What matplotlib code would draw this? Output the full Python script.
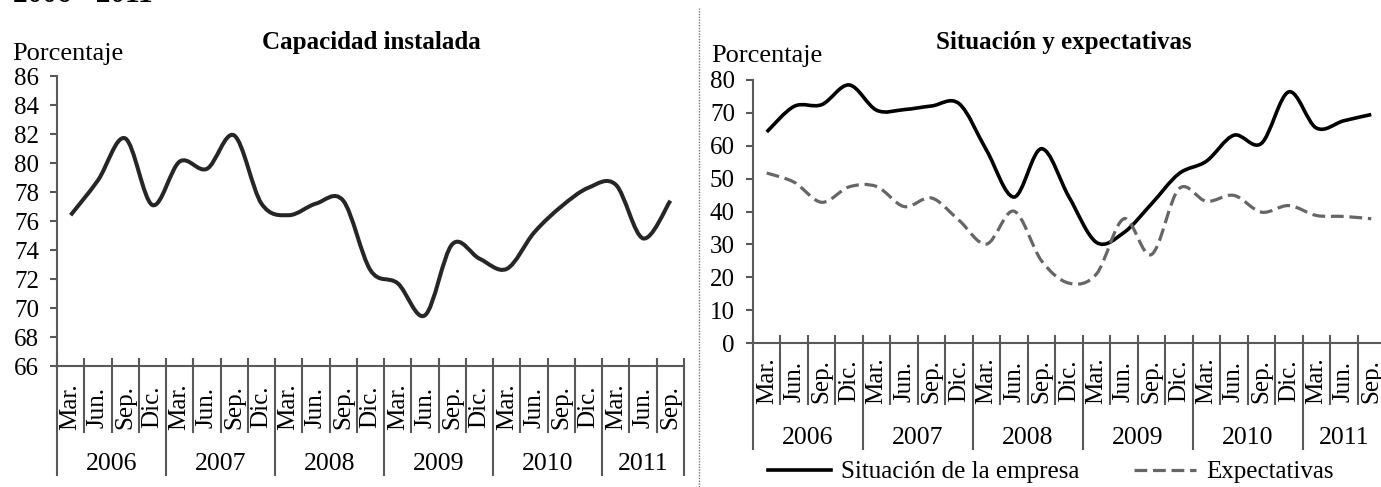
import numpy as np
import matplotlib
matplotlib.use("Agg")
import matplotlib.pyplot as plt
from matplotlib.path import Path
from matplotlib.patches import PathPatch
from matplotlib.lines import Line2D

plt.rcParams['font.family'] = ['Liberation Serif', 'DejaVu Serif']

# --- data ---
months = ['Mar.', 'Jun.', 'Sep.', 'Dic.'] * 5 + ['Mar.', 'Jun.', 'Sep.']
years = ['2006', '2007', '2008', '2009', '2010', '2011']
year_len = [4, 4, 4, 4, 4, 3]

capacidad = [76.4, 78.8, 81.7, 77.1, 80.1, 79.6, 81.9, 77.2, 76.4, 77.2, 77.4, 72.6,
             71.7, 69.5, 74.4, 73.4, 72.7, 75.2, 77.0, 78.3, 78.5, 74.8, 77.4]
situacion = [64.2, 72.0, 72.5, 78.5, 70.8, 71.0, 72.1, 72.8, 58.6, 44.4, 59.1, 44.4,
             30.6, 33.6, 42.3, 51.5, 55.3, 63.2, 60.7, 76.4, 65.4, 67.6, 69.5]
expectativas = [51.7, 48.9, 42.8, 47.5, 47.6, 41.5, 44.1, 37.3, 30.1, 40.1, 25.0, 18.2,
                21.0, 37.8, 26.9, 46.9, 43.1, 44.9, 39.8, 41.8, 38.8, 38.5, 37.8]

W, H = 1381, 487
AX_COL = '#595959'


def smooth_path(y):
    # Bezier smoothing like the spreadsheet "smoothed line" option
    pts = np.column_stack([np.arange(len(y)) + 0.5, y])
    n = len(pts)
    verts = [pts[0]]
    codes = [Path.MOVETO]
    for i in range(n - 1):
        p0 = pts[max(i - 1, 0)]
        p1 = pts[i]
        p2 = pts[i + 1]
        p3 = pts[min(i + 2, n - 1)]
        verts += [p1 + (p2 - p0) / 6, p2 - (p3 - p1) / 6, p2]
        codes += [Path.CURVE4] * 3
    return Path(verts, codes)


def make_ax(fig, left, right, top, bottom):
    ax = fig.add_axes([left / W, 1 - bottom / H, (right - left) / W, (bottom - top) / H])
    ax.set_xlim(0, len(months))
    for s in ['top', 'right']:
        ax.spines[s].set_visible(False)
    for s in ['left', 'bottom']:
        ax.spines[s].set_color(AX_COL)
        ax.spines[s].set_linewidth(1.5)
    ax.set_xticks([])
    ax.tick_params(axis='y', direction='out', length=5, width=1.5, color=AX_COL,
                   labelsize=18, pad=8)
    return ax


def draw_cats(ax, h_px, m_len, y_len, m_off, y_off):
    trans = ax.get_xaxis_transform()
    n = len(months)
    bounds = np.cumsum([0] + year_len)
    for k in range(n + 1):
        length = y_len if k in bounds else m_len
        ax.plot([k, k], [8 / h_px, -length / h_px], transform=trans, clip_on=False,
                color=AX_COL, lw=1.5, solid_capstyle='butt')
    for i, m in enumerate(months):
        ax.text(i + 0.5, -m_off / h_px, m, rotation=90, ha='center', va='center',
                transform=trans, fontsize=18)
    for j, yr in enumerate(years):
        ax.text((bounds[j] + bounds[j + 1]) / 2, -y_off / h_px, yr, ha='center', va='center',
                transform=trans, fontsize=18.5)


fig = plt.figure(figsize=(W / 100, H / 100), dpi=100)

fig.text(13 / W, 1 - 1.5 / H, '2006 - 2011', fontsize=21, fontweight='bold',
         ha='left', va='baseline')

# left chart
ax1 = make_ax(fig, 57, 684, 76, 366)
ax1.set_ylim(66, 86)
ax1.set_yticks(np.arange(66, 87, 2))
ax1.add_patch(PathPatch(smooth_path(capacidad), fill=False, lw=2.9, edgecolor='#262626',
                        capstyle='butt'))
draw_cats(ax1, 290, 67, 110, 41, 98)
fig.text(371 / W, 1 - 42 / H, 'Capacidad instalada', fontsize=18, fontweight='bold',
         ha='center', va='center')
fig.text(12 / W, 1 - 54 / H, 'Porcentaje', fontsize=19, ha='left', va='center')

# right chart
ax2 = make_ax(fig, 753, 1385, 80, 343)
ax2.set_ylim(0, 80)
ax2.set_yticks(np.arange(0, 81, 10))
ax2.add_patch(PathPatch(smooth_path(situacion), fill=False, lw=2.6, edgecolor='black',
                        capstyle='butt'))
ax2.add_patch(PathPatch(smooth_path(expectativas), fill=False, lw=2.3, edgecolor='#666666',
                        linestyle=(0, (4, 1.8)), capstyle='butt'))
draw_cats(ax2, 263, 62, 107, 38, 95)
fig.text(1064 / W, 1 - 42 / H, 'Situación y expectativas', fontsize=18, fontweight='bold',
         ha='center', va='center')
fig.text(711 / W, 1 - 56 / H, 'Porcentaje', fontsize=19, ha='left', va='center')

handles = [Line2D([], [], color='black', lw=2.6),
           Line2D([], [], color='#666666', lw=2.3, linestyle=(0, (4, 1.8)))]
fig.legend(handles, ['Situación de la empresa', 'Expectativas'], loc='center',
           bbox_to_anchor=(1051 / W, 1 - 472 / H), ncol=2, frameon=False, fontsize=18,
           handlelength=2.5, handletextpad=0.4, columnspacing=2.2, borderpad=0)

# dotted separator between panels
fig.add_artist(Line2D([699 / W, 699 / W], [0, 1 - 8 / H], color='#777777', lw=1,
                      linestyle=(0, (1, 1))))

fig.savefig('out.png', dpi=100)
